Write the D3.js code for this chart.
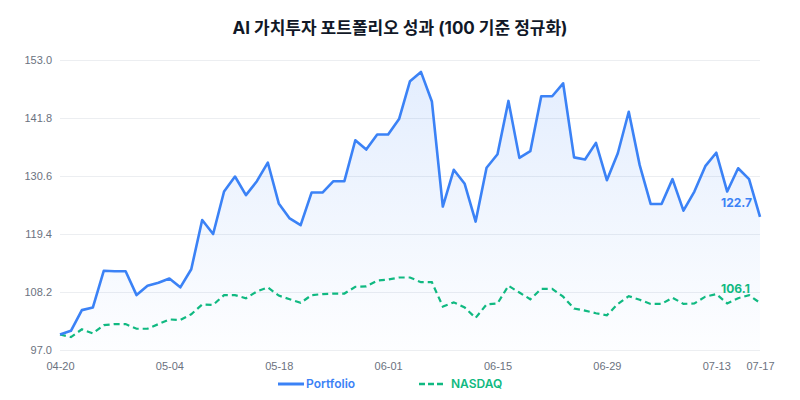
<!DOCTYPE html>
<html>
<head>
<meta charset="utf-8">
<script src="https://cdn.jsdelivr.net/npm/d3@7"></script>
<style>
  body { margin: 0; background: #fff; }
  svg { font-family: Inter, "Noto Sans CJK KR", sans-serif; }
  .grid line { stroke: #eceef1; stroke-width: 1; }
  .tick_label { fill: #6b7280; font-size: 11px; }
</style>
</head>
<body>
<div id="content"></div>
<script>
// chart data (trading days, normalised to 100)
var dates = [
  '04-20','04-21','04-22','04-23','04-24','04-27','04-28','04-29','04-30','05-01',
  '05-04','05-05','05-06','05-07','05-08','05-11','05-12','05-13','05-14','05-15',
  '05-18','05-19','05-20','05-21','05-22','05-25','05-26','05-27','05-28','05-29',
  '06-01','06-02','06-03','06-04','06-05','06-08','06-09','06-10','06-11','06-12',
  '06-15','06-16','06-17','06-18','06-19','06-22','06-23','06-24','06-25','06-26',
  '06-29','06-30','07-01','07-02','07-03','07-06','07-07','07-08','07-09','07-10',
  '07-13','07-14','07-15','07-16','07-17'];
var portfolio = [
  100.0,100.7,104.7,105.2,112.3,112.2,112.2,107.6,109.4,110.0,
  110.8,109.1,112.6,122.1,119.4,127.6,130.5,126.9,129.6,133.2,
  125.3,122.4,121.1,127.4,127.4,129.6,129.6,137.5,135.7,138.6,
  138.6,141.6,148.9,150.7,145.0,124.7,131.8,129.1,121.8,132.2,
  134.8,145.1,134.1,135.4,146.0,146.0,148.5,134.2,133.8,137.0,
  129.8,135.0,143.0,132.7,125.2,125.2,130.0,123.9,127.6,132.5,
  135.1,127.6,132.1,130.0,122.7];
var nasdaq = [
  100.0,99.5,101.0,100.2,101.8,102.0,102.0,101.1,101.1,102.0,
  102.9,102.8,103.9,105.8,105.7,107.6,107.6,107.0,108.3,109.1,
  107.5,106.8,106.1,107.6,107.8,107.9,107.9,109.2,109.3,110.4,
  110.6,111.0,111.0,110.1,110.1,105.4,106.2,105.2,103.2,105.8,
  106.0,109.4,108.1,106.8,108.8,108.8,107.3,105.0,104.6,104.1,
  103.7,105.9,107.4,106.7,105.9,105.9,107.1,105.9,106.0,107.3,
  107.8,106.0,107.0,107.6,106.1];
var y_ticks = [97.0, 108.2, 119.4, 130.6, 141.8, 153.0];
var x_ticks = ['04-20','05-04','05-18','06-01','06-15','06-29','07-13','07-17'];
var series_names = ['Portfolio', 'NASDAQ'];

var title = 'AI 가치투자 포트폴리오 성과 (100 기준 정규화)';
var blue = '#3b82f6';
var green = '#10b981';
var svg_width = 800;
var svg_height = 400;
var margin = {top: 60, right: 40, bottom: 50, left: 60};

var svg = d3.select('#content').append('svg')
  .attr('width', svg_width).attr('height', svg_height);

var xScale = d3.scalePoint().domain(dates).range([margin.left, svg_width - margin.right]);
var yScale = d3.scaleLinear().domain([97, 153]).range([svg_height - margin.bottom, margin.top]);

// gradient for the area under the portfolio line
var defs = svg.append('defs');
var grad = defs.append('linearGradient').attr('id', 'areaGrad')
  .attr('x1', 0).attr('y1', 0).attr('x2', 0).attr('y2', 1);
grad.append('stop').attr('offset', '0%').attr('stop-color', blue).attr('stop-opacity', 0.14);
grad.append('stop').attr('offset', '100%').attr('stop-color', blue).attr('stop-opacity', 0.01);

// title
svg.append('text')
  .attr('x', svg_width / 2).attr('y', 34)
  .attr('text-anchor', 'middle')
  .style('font-size', '17px').style('font-weight', 700).style('fill', '#111827')
  .text(title);

// grid + y labels
var yAxis = svg.append('g').attr('class', 'grid')
  .attr('transform', 'translate(' + margin.left + ',0)')
  .call(d3.axisLeft(yScale).tickValues(y_ticks)
    .tickSize(-(svg_width - margin.left - margin.right))
    .tickPadding(8).tickFormat(d3.format('.1f')));
yAxis.select('.domain').remove();
yAxis.selectAll('text').attr('class', 'tick_label');

// x labels
var xAxis = svg.append('g')
  .attr('transform', 'translate(0,' + (svg_height - margin.bottom) + ')')
  .call(d3.axisBottom(xScale).tickValues(x_ticks).tickSize(0).tickPadding(12));
xAxis.select('.domain').remove();
xAxis.selectAll('text').attr('class', 'tick_label');

// area + lines
var area = d3.area()
  .x(function(d, i){ return xScale(dates[i]); })
  .y0(yScale(97))
  .y1(function(d){ return yScale(d); });
svg.append('path').datum(portfolio)
  .attr('d', area).attr('fill', 'url(#areaGrad)');

var line = d3.line()
  .x(function(d, i){ return xScale(dates[i]); })
  .y(function(d){ return yScale(d); });

svg.append('path').datum(nasdaq)
  .attr('d', line).attr('fill', 'none')
  .attr('stroke', green).attr('stroke-width', 2.2)
  .attr('stroke-dasharray', '6,4');

svg.append('path').datum(portfolio)
  .attr('d', line).attr('fill', 'none')
  .attr('stroke', blue).attr('stroke-width', 2.6)
  .attr('stroke-linejoin', 'round');

// end labels
var last = dates.length - 1;
[[portfolio, blue], [nasdaq, green]].forEach(function(s){
  svg.append('text')
    .attr('x', xScale(dates[last]) - 39)
    .attr('y', yScale(s[0][last]) - 10)
    .style('font-size', '12px').style('font-weight', 700).style('fill', s[1])
    .text(s[0][last].toFixed(1));
});

// legend
var legend = svg.append('g').attr('transform', 'translate(0,384)');
var legend_x = [278, 419];
series_names.forEach(function(name, i){
  var c = i == 0 ? blue : green;
  legend.append('line')
    .attr('x1', legend_x[i]).attr('x2', legend_x[i] + 26)
    .attr('y1', 0).attr('y2', 0)
    .attr('stroke', c).attr('stroke-width', i == 0 ? 3 : 2.5)
    .attr('stroke-dasharray', i == 0 ? null : '6,3');
  legend.append('text')
    .attr('x', legend_x[i] + 28 + (i == 0 ? 0 : 4)).attr('y', 4)
    .style('font-size', '12px').style('font-weight', 600).style('fill', c)
    .text(name);
});
</script>
</body>
</html>
